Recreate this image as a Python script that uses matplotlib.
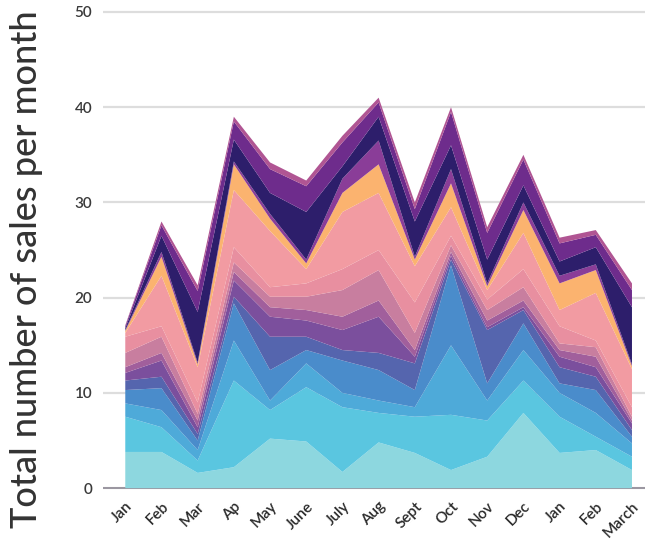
import matplotlib
matplotlib.use("Agg")
import matplotlib.pyplot as plt
import numpy as np

months = ["Jan", "Feb", "Mar", "Ap", "May", "June", "July", "Aug", "Sept",
          "Oct", "Nov", "Dec", "Jan", "Feb", "March"]

aqua      = [3.8, 3.8, 1.6, 2.2, 5.2, 4.9, 1.7, 4.8, 3.7, 1.9, 3.3, 7.9, 3.7, 4.0, 1.9]
cyan      = [3.7, 2.6, 1.3, 9.1, 3.0, 5.7, 6.8, 3.1, 3.8, 5.8, 3.8, 3.4, 3.8, 1.4, 1.4]
blue      = [1.4, 1.8, 1.1, 4.2, 1.0, 2.5, 1.5, 1.3, 1.0, 7.3, 2.1, 3.2, 2.5, 2.5, 1.4]
steel     = [1.4, 2.3, 1.0, 3.9, 3.2, 1.4, 3.4, 3.2, 1.8, 8.4, 1.8, 2.8, 1.0, 2.4, 0.7]
indigo    = [1.0, 1.2, 0.7, 0.7, 3.5, 1.4, 1.1, 1.8, 2.8, 0.6, 5.6, 1.4, 1.7, 1.4, 0.7]
violet    = [0.8, 1.7, 0.7, 1.7, 2.1, 1.7, 2.1, 3.8, 0.7, 0.4, 0.3, 0.3, 1.1, 1.0, 0.7]
mauve     = [0.6, 0.8, 0.7, 0.9, 1.0, 1.1, 1.4, 1.7, 0.7, 0.4, 0.7, 0.7, 0.7, 1.1, 0.3]
pinkmauve = [1.5, 1.7, 0.7, 1.0, 1.1, 1.4, 2.8, 3.2, 1.8, 0.7, 1.1, 1.4, 0.7, 1.0, 0.4]
pink      = [1.7, 1.1, 1.2, 1.6, 1.0, 1.4, 2.2, 2.1, 3.2, 1.0, 1.1, 1.9, 1.8, 0.7, 1.0]
lightpink = [0.4, 5.3, 3.7, 6.0, 5.9, 1.5, 6.0, 6.0, 3.8, 3.0, 1.0, 3.8, 1.7, 5.0, 4.0]
orange    = [0.2, 2.0, 0.3, 2.7, 1.3, 0.6, 2.0, 3.0, 0.7, 2.5, 0.4, 2.4, 2.8, 2.4, 0.3]
midpurple = [0.1, 0.5, 0.2, 0.3, 0.5, 0.4, 1.5, 2.5, 0.3, 1.5, 0.3, 0.8, 0.8, 0.6, 0.2]
navy      = [0.2, 1.7, 5.3, 2.3, 2.2, 5.0, 1.3, 2.5, 3.7, 2.5, 2.5, 1.8, 1.5, 1.8, 6.0]
purpletop = [0.2, 1.1, 2.2, 1.9, 2.5, 2.7, 2.5, 1.5, 1.3, 3.5, 2.8, 2.7, 1.9, 1.3, 1.8]
magenta   = [0.1, 0.4, 0.6, 0.5, 0.7, 0.6, 0.7, 0.5, 0.7, 0.5, 0.6, 0.5, 0.6, 0.5, 0.7]

series = [aqua, cyan, blue, steel, indigo, violet, mauve, pinkmauve, pink,
          lightpink, orange, midpurple, navy, purpletop, magenta]
colors = ["#8dd7df", "#5ac6e0", "#4eaad9", "#4a8ccb", "#5565ae", "#7b4f9d",
          "#a15f9c", "#c87e9f", "#e88fa0", "#f29ba2", "#fbb36f", "#8a3d98",
          "#2d1e6b", "#6e2c8c", "#b05593"]

fig = plt.figure(figsize=(6.45, 5.55), dpi=100)
ax = fig.add_axes([0.16, 0.1153, 0.84, 0.8683])

x = np.arange(len(months))
ax.stackplot(x, *series, colors=colors, linewidth=0, zorder=3)

ax.set_ylim(-0.3, 50.3)
ax.set_xlim(-0.61, 14.36)
ax.set_yticks([0, 10, 20, 30, 40, 50])
ax.yaxis.grid(True, color="#dddddd", linewidth=1.6, zorder=0)
ax.set_axisbelow(True)
for s in ax.spines.values():
    s.set_visible(False)
ax.axhline(0, color="#8e8a96", linewidth=1.2, zorder=1)

ax.set_xticks(x)
ax.set_xticklabels(months, rotation=45, ha="right", va="top",
                   rotation_mode="anchor", fontsize=11, color="#2a2a2a",
                   fontweight="semibold", family="Lato")
ax.tick_params(axis="both", length=0)
ax.tick_params(axis="x", pad=6)
ax.tick_params(axis="y", pad=8)
for lbl in ax.get_yticklabels():
    lbl.set_fontsize(11)
    lbl.set_color("#3a3a3a")
    lbl.set_family("Lato")
    lbl.set_fontweight("semibold")

ax.set_ylabel("Total number of sales per month", fontsize=26, color="#333333",
              family="Lato", fontweight="medium")
ax.yaxis.set_label_coords(-0.112, 0.46)

fig.savefig("out.png", dpi=100)
